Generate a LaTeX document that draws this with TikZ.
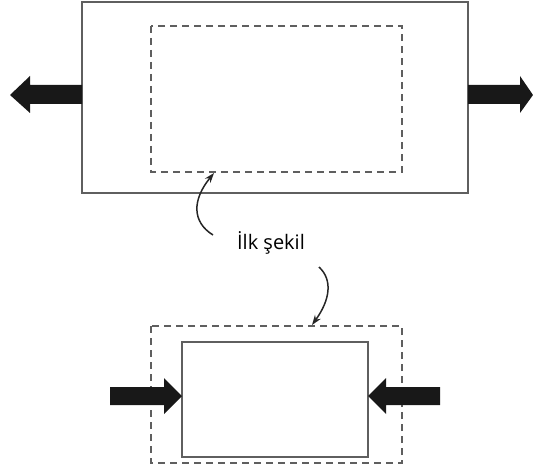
\documentclass[tikz,border=0pt]{standalone}
\usepackage{fontspec}
\setmainfont{Open Sans}
\usetikzlibrary{arrows.meta}
\definecolor{linegray}{RGB}{95,95,95}
\definecolor{arrowblack}{RGB}{24,24,24}
\tikzset{
  solidbox/.style={draw=linegray, line width=1.1pt},
  dashbox/.style={draw=linegray, line width=1.1pt, dash pattern=on 7pt off 5pt},
  blockarrow/.style={fill=arrowblack, draw=none},
  pointer/.style={draw=black!85, line width=1.5pt, -{Stealth[length=10pt,width=7pt]}},
}
\begin{document}
\begin{tikzpicture}[x=1pt,y=-1pt]
\useasboundingbox (0,0) rectangle (533,476);
% top figure
\draw[solidbox] (82,2) rectangle (468,193);
\draw[dashbox] (151,26) rectangle (402,172);
\coordinate (topdash) at (214,173);
% left outward arrow
\fill[blockarrow] (82,85) -- (30,85) -- (30,76) -- (10,95) -- (30,113) -- (30,104) -- (82,104) -- cycle;
% right outward arrow
\fill[blockarrow] (468,85) -- (520,85) -- (520,76) -- (533,95) -- (520,113) -- (520,104) -- (468,104) -- cycle;
% label
\node[font=\fontsize{20}{24}\selectfont, inner sep=0pt, anchor=base] (lbl) at (271,249) {İlk şekil};
\coordinate (c1) at (213,235);
\coordinate (c2) at (319,267);
\draw[pointer] (c1) .. controls (192,222) and (192,200) .. (topdash);
% bottom figure
\draw[dashbox] (151,326) rectangle (402,463);
\draw[solidbox] (182,342) rectangle (368,457);
\coordinate (botdash) at (312,325);
\draw[pointer] (c2) .. controls (333,280) and (330,300) .. (botdash);
% left inward arrow
\fill[blockarrow] (110,387) -- (164,387) -- (164,378) -- (182,396) -- (164,414) -- (164,405) -- (110,405) -- cycle;
% right inward arrow
\fill[blockarrow] (440,387) -- (386,387) -- (386,378) -- (368,396) -- (386,414) -- (386,405) -- (440,405) -- cycle;
\end{tikzpicture}
\end{document}
